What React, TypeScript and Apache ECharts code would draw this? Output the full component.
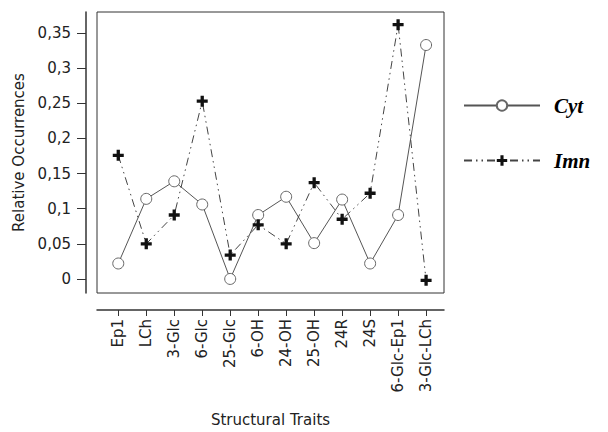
import React, { useEffect, useRef } from "react";
import * as echarts from "echarts";

const categories = ["Ep1", "LCh", "3-Glc", "6-Glc", "25-Glc", "6-OH", "24-OH", "25-OH", "24R", "24S", "6-Glc-Ep1", "3-Glc-LCh"];
const cytValues = [0.022, 0.114, 0.139, 0.106, 0.0, 0.091, 0.117, 0.051, 0.113, 0.022, 0.091, 0.333];
const imnValues = [0.176, 0.05, 0.091, 0.253, 0.034, 0.077, 0.05, 0.137, 0.085, 0.122, 0.362, -0.002];
const yTicks = [0, 0.05, 0.1, 0.15, 0.2, 0.25, 0.3, 0.35];
const xTicks = categories.map((_, i) => i);

const PLUS = "path://M3.5,0h3v3.5h3.5v3h-3.5v3.5h-3v-3.5h-3.5v-3h3.5z";

export default function App() {
  const ref = useRef<HTMLDivElement>(null);
  useEffect(() => {
    document.body.style.margin = "0";
    const chart = echarts.init(ref.current!, undefined, { renderer: "svg" });
    const sansLabel = { fontFamily: "DejaVu Sans, Liberation Sans, Arial, sans-serif", fontSize: 15, color: "#222" };
    chart.setOption({
      animation: false,
      backgroundColor: "#fff",
      grid: { left: 97, right: 164, top: 12, bottom: 138, show: true, borderColor: "#333", borderWidth: 1, backgroundColor: "transparent" },
      legend: {
        orient: "vertical",
        left: 463,
        top: 95,
        padding: 0,
        itemWidth: 76,
        itemHeight: 13,
        itemGap: 34,
        textStyle: { fontFamily: "Liberation Serif, Times New Roman, serif", fontWeight: "bold", fontStyle: "italic", fontSize: 21, color: "#000", padding: [0, 0, 0, 9] },
        data: ["Cyt", "Imn"],
      },
      xAxis: {
        type: "value",
        min: -0.76,
        max: 11.64,
        offset: 17,
        splitLine: { show: false },
        axisLine: { show: true, onZero: false, lineStyle: { color: "#333", width: 1.5 } },
        axisTick: { show: true, length: 6, customValues: xTicks, lineStyle: { color: "#333" } },
        axisLabel: {
          ...sansLabel,
          rotate: 90,
          margin: 9,
          customValues: xTicks,
          formatter: (v: number) => categories[Math.round(v)] ?? "",
        },
        name: "Structural Traits",
        nameLocation: "middle",
        nameGap: 102,
        nameTextStyle: { ...sansLabel, fontSize: 15 },
      },
      yAxis: {
        type: "value",
        min: -0.02,
        max: 0.38,
        offset: 11,
        splitLine: { show: false },
        axisLine: { show: true, onZero: false, lineStyle: { color: "#333", width: 1.5 } },
        axisTick: { show: true, length: 9, customValues: yTicks, lineStyle: { color: "#333" } },
        axisLabel: {
          ...sansLabel,
          margin: 15,
          customValues: yTicks,
          formatter: (v: number) => String(Math.round(v * 100) / 100).replace(".", ","),
        },
        name: "Relative Occurrences",
        nameLocation: "middle",
        nameGap: 56,
        nameTextStyle: { ...sansLabel, fontSize: 15 },
      },
      series: [
        {
          name: "Cyt",
          type: "line",
          data: cytValues.map((v, i) => [i, v]),
          symbol: "circle",
          symbolSize: 11,
          itemStyle: { color: "#fff", borderColor: "#666", borderWidth: 1 },
          lineStyle: { color: "#555", width: 1, type: "solid" },
          z: 2,
        },
        {
          name: "Imn",
          type: "line",
          data: imnValues.map((v, i) => [i, v]),
          symbol: PLUS,
          symbolSize: 11,
          itemStyle: { color: "#111", borderWidth: 0 },
          lineStyle: { color: "#444", width: 1, type: [8, 4, 1.5, 4, 1.5, 4] },
          z: 3,
        },
      ],
    });
    return () => chart.dispose();
  }, []);
  return <div ref={ref} style={{ width: 608, height: 432 }} />;
}
